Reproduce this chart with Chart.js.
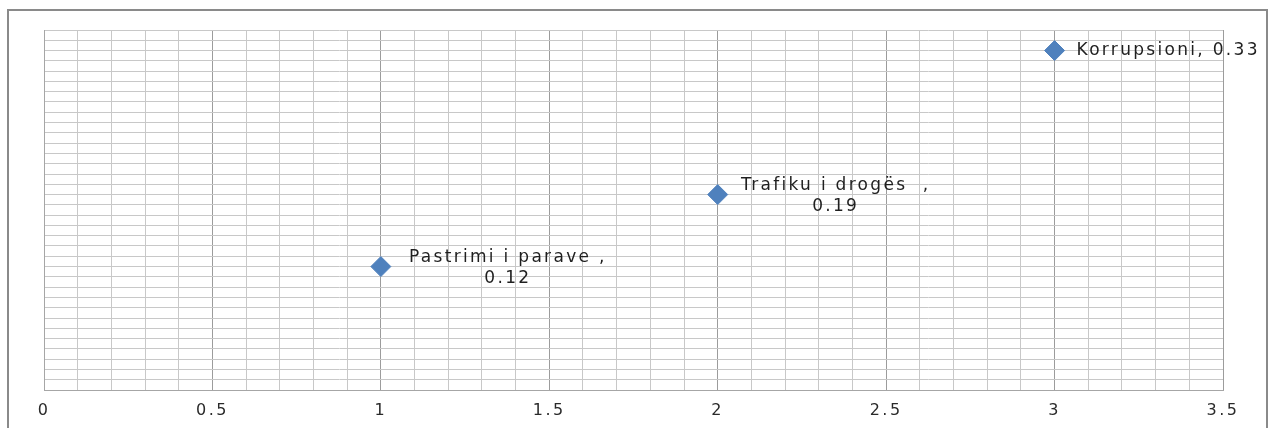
<!DOCTYPE html>
<html>
<head>
<meta charset="utf-8">
<script src="https://cdn.jsdelivr.net/npm/chart.js@4"></script>
<style>
  body { margin: 0; background: #fff; }
  #kanvas-wrap { position: relative; width: 1274px; height: 428px; }
  #bingkai {
    position: absolute; left: 7px; top: 9px; width: 1261px; height: 440px;
    border: 2px solid #8a8a8a; box-sizing: border-box;
  }
  canvas { position: absolute; left: 0; top: 0; }
</style>
</head>
<body>
<div id="kanvas-wrap">
  <div id="bingkai"></div>
  <canvas id="grafik" width="1274" height="428"></canvas>
</div>
<script>
// Data titik
const kategori = ['Pastrimi i parave ,', 'Trafiku i drogës  ,', 'Korrupsioni,'];
const nilaiX   = [1, 2, 3];
const nilaiY   = [0.12, 0.19, 0.33];
const labelTickX = ['0', '0.5', '1', '1.5', '2', '2.5', '3', '3.5'];

function formatNilai(v) {
    return String(Math.round(v * 10) / 10);
}

// Label data ala Excel
const labelTitik = {
    id: 'labelTitik',
    beforeDraw(chart) {
        chart.ctx.letterSpacing = '2.5px';
    },
    afterDatasetsDraw(chart) {
        const ctx = chart.ctx;
        const meta = chart.getDatasetMeta(0);
        ctx.save();
        ctx.letterSpacing = '2.3px';
        ctx.font = '17px "DejaVu Sans"';
        ctx.fillStyle = '#1f1f1f';
        ctx.textBaseline = 'middle';
        meta.data.forEach((pt, i) => {
            const teksY = nilaiY[i].toFixed(2);
            if (i === 2) {
                ctx.textAlign = 'left';
                ctx.fillText(kategori[i] + ' ' + teksY, pt.x + 22, pt.y);
            } else {
                const tengah = pt.x + (i === 0 ? 127 : 118);
                ctx.textAlign = 'center';
                ctx.fillText(kategori[i], tengah, pt.y - 9);
                ctx.fillText(teksY, tengah, pt.y + 12);
            }
        });
        ctx.restore();
    }
};

const ctx = document.getElementById('grafik').getContext('2d');
new Chart(ctx, {
    type: 'scatter',
    data: {
        datasets: [{
            data: nilaiX.map((x, i) => ({ x: x, y: nilaiY[i] })),
            pointStyle: 'rectRot',
            pointRadius: 10,
            pointHoverRadius: 10,
            backgroundColor: '#4f81bd',
            borderColor: '#4f81bd',
            borderWidth: 1
        }]
    },
    options: {
        responsive: false,
        animation: false,
        layout: { padding: { left: 44, right: 51, top: 30, bottom: 0 } },
        plugins: {
            legend: { display: false },
            tooltip: { enabled: false }
        },
        scales: {
            x: {
                type: 'linear',
                min: 0,
                max: 3.5,
                afterFit(scale) { scale.height = 38; },
                border: { display: true, color: '#a6a6a6', width: 1 },
                grid: {
                    drawTicks: false,
                    color: c => labelTickX.includes(formatNilai(c.tick.value)) ? '#9c9c9c' : '#c8c8c8',
                    lineWidth: 1
                },
                ticks: {
                    stepSize: 0.1,
                    maxTicksLimit: 100,
                    autoSkip: false,
                    maxRotation: 0,
                    padding: 11,
                    color: '#2a2a2a',
                    font: { family: 'DejaVu Sans', size: 16 },
                    callback: v => labelTickX.includes(formatNilai(v)) ? formatNilai(v) : ''
                }
            },
            y: {
                min: 0,
                max: 0.35,
                afterFit(scale) { scale.width = 0; },
                border: { display: true, color: '#a6a6a6', width: 1 },
                grid: { drawTicks: false, color: '#c8c8c8', lineWidth: 1 },
                ticks: { display: false, stepSize: 0.01, maxTicksLimit: 100 }
            }
        }
    },
    plugins: [labelTitik]
});
</script>
</body>
</html>
